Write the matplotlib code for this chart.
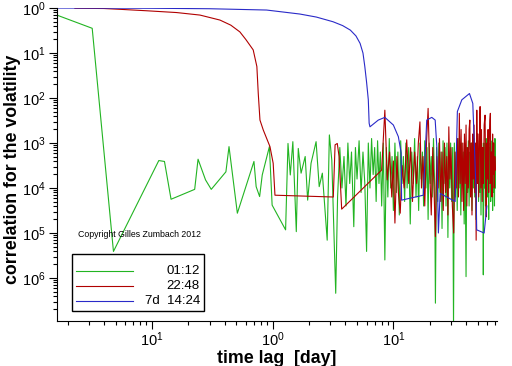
import numpy as np
import matplotlib
matplotlib.use("Agg")
from matplotlib import pyplot as plt
from matplotlib.patches import Rectangle
from matplotlib.ticker import NullFormatter

plt.rcParams['font.family'] = ['Liberation Sans', 'DejaVu Sans']
plt.rcParams['mathtext.default'] = 'regular'

# time lag [day] and log10 of the correlation
green_x = [0.0163, 0.032, 0.048, 0.114, 0.127, 0.144, 0.226, 0.241, 0.278, 0.31, 0.41, 0.435, 0.51,
           0.70, 0.73, 0.78, 0.82, 0.94, 0.99, 1.28, 1.34, 1.40, 1.47, 1.57, 1.63, 1.72, 1.86, 1.95,
           2.08, 2.29, 2.43, 2.58, 2.83, 2.95, 3.09, 3.33,
           3.45, 3.6, 3.75, 3.9, 4.05, 4.2, 4.35, 4.5, 4.7, 4.85, 5.0, 5.2, 5.4, 5.6, 5.8, 6.0, 6.2,
           6.4, 6.6, 6.8, 7.0, 7.2, 7.4, 7.6, 7.8, 8.0, 8.25, 8.5, 8.75, 9.0, 9.25, 9.5, 9.75, 10.0,
           10.3, 10.6, 10.9, 11.2, 11.5, 11.8, 12.1, 12.4, 12.7, 13.0, 13.4, 13.8, 14.2, 14.6, 15.0,
           15.4, 15.8, 16.2, 16.6, 17.0, 17.4, 17.8, 18.2, 18.6, 19.0, 19.4, 19.8, 20.2, 20.6, 21.0,
           21.5, 22.0, 22.3, 22.8, 23.3, 23.8, 24.3, 24.8, 25.3, 25.8, 26.3, 26.8, 27.3, 27.8, 28.3,
           28.8, 29.3, 29.8,
           30.4, 31.0, 31.5, 32.0, 32.6, 33.2, 33.8, 34.4, 35.0, 35.6, 36.2, 36.8, 37.4, 38.0, 38.6,
           39.2, 40.0, 40.6, 41.2, 41.8, 42.4, 43.0, 43.6, 44.2, 44.8, 45.4, 46.0, 46.6, 47.2, 47.8,
           48.4, 49.0, 49.6, 50.2, 50.8, 51.4, 52.0, 52.6, 53.2, 53.8, 54.4, 55.0, 55.6, 56.2, 56.8,
           57.4, 58.0, 58.6, 59.2, 59.8, 60.4, 61.0, 61.6, 62.2, 62.8, 63.4, 64.0, 64.6, 65.2, 65.8,
           66.4, 67.0, 67.6, 68.2, 68.8, 69.4, 70.0]
green_e = [-0.156, -0.45, -5.41, -3.39, -3.41, -4.25, -4.03, -3.36, -3.82, -4.03, -3.64, -3.08, -4.56,
           -3.41, -3.97, -4.19, -3.71, -3.08, -4.38, -4.93, -3.01, -3.71, -2.97, -4.97, -3.12, -3.67,
           -3.30, -4.27, -3.45, -2.97, -3.97, -3.67, -5.16, -2.82, -3.38, -6.34,
           -4.2, -3.1, -4.0, -3.3, -4.4, -3.0, -3.9, -3.2, -4.86, -3.1, -3.8, -2.95, -4.1, -3.2, -3.9,
           -5.41, -3.0, -4.0, -2.9, -3.7, -3.1, -4.3, -2.95, -3.9, -3.2, -4.4, -3.0, -5.6, -3.1, -4.2,
           -2.9, -4.0, -3.3, -4.5,
           -3.0, -4.1, -3.2, -4.6, -2.95, -3.9, -3.3, -4.3, -3.0, -4.0, -3.1, -4.8, -3.2, -3.9, -2.9,
           -4.2, -3.3, -4.5, -3.0, -3.8, -3.2, -4.4, -2.95, -4.0, -3.1, -4.7, -3.0, -3.9, -3.3, -4.2,
           -2.9, -4.0, -6.56, -3.1, -4.3, -3.0, -4.1, -3.2, -4.9, -2.95, -3.9, -3.1, -4.4, -3.0, -5.1,
           -3.2, -4.0, -3.0,
           -4.3, -3.1, -7.1, -3.0, -4.2, -3.2, -4.5, -2.9, -4.0, -3.1, -4.6, -3.0, -3.9, -3.2, -4.8,
           -3.0, -5.97, -3.1, -4.1, -2.95, -4.4, -3.2, -3.8, -3.0, -4.5, -3.1, -4.0, -2.9, -4.2, -3.3,
           -4.7, -3.0, -3.9, -3.2, -4.3, -2.95, -4.1, -3.1, -4.6, -3.0, -3.8, -3.2, -5.93, -3.0, -4.0,
           -3.1, -4.4, -2.9, -3.9, -3.2, -4.2, -3.0, -4.7, -3.1, -3.9, -3.0, -4.3, -3.2, -4.0, -2.95,
           -4.5, -3.1, -4.1, -3.0, -4.4, -2.9, -4.0]

red_x = [0.023, 0.04, 0.056, 0.09, 0.16, 0.25, 0.366, 0.45, 0.535, 0.6, 0.69, 0.74, 0.76, 0.785,
         0.836, 0.95, 1.01, 1.045, 3.18, 3.29, 3.43, 3.55, 3.73, 8.0, 8.5,
         8.9, 9.3, 9.7, 10.0, 10.3, 10.7, 11.0, 11.4, 11.8, 12.3, 12.9, 13.4, 13.9, 14.4, 15.0, 15.6,
         16.1, 16.6, 17.1, 17.6, 18.2, 18.8, 19.4, 20.0, 20.6, 21.2, 21.8, 22.3, 22.9, 23.5, 24.1,
         24.7, 25.3, 25.9, 26.5, 27.1, 27.7, 28.3, 28.8, 29.4, 30.0, 30.8, 31.6, 32.4, 33.2, 34.0,
         34.6, 35.2, 35.8, 36.4, 37.0, 37.6, 38.2, 38.8, 39.4, 40.0, 40.6, 41.2, 41.8, 42.4, 43.0,
         43.6, 44.2, 44.8, 45.4, 46.0, 46.6, 47.2, 47.8, 48.5, 49.1, 49.7, 50.3, 50.9, 51.6, 52.3,
         53.0, 53.7, 54.4, 55.1, 55.8, 56.5, 57.5, 58.2, 58.8, 59.5, 60.2, 60.9, 61.6, 62.3, 63.0,
         63.6, 64.3, 65.0, 65.7, 66.4, 67.1, 67.8, 68.5, 69.2, 70.0]
red_e = [-0.005, -0.01, -0.03, -0.06, -0.1, -0.156, -0.267, -0.38, -0.53, -0.7, -0.93, -1.3, -1.9,
         -2.49, -2.71, -3.08, -3.45, -4.16, -4.2, -3.04, -3.01, -3.3, -4.47, -3.6, -2.27,
         -3.82, -3.2, -4.2, -3.4, -4.78, -3.3, -4.1, -4.56, -3.5, -4.0, -2.93, -3.9, -3.1, -4.3, -3.2,
         -3.9, -3.0, -2.53, -4.0, -3.3, -4.4, -3.0, -2.23, -3.6, -4.6, -3.1, -4.2, -5.08, -3.3, -4.0,
         -2.9, -4.3, -3.2, -4.5, -3.0, -4.1, -3.3, -4.6, -2.64, -3.8, -3.1, -4.4, -5.0, -3.2, -4.0,
         -2.9, -4.2, -2.34, -3.9, -2.7, -4.3, -3.0, -4.5, -2.8, -3.9, -2.6, -4.4, -3.1, -4.0, -2.7,
         -2.49, -4.2, -3.0, -4.6, -2.8, -3.8, -2.6, -4.1, -3.0, -5.16, -2.27, -3.9, -2.8, -4.2, -3.0,
         -2.19, -4.0, -2.7, -4.3, -3.1, -3.9, -2.6, -2.38, -4.0, -4.64, -3.0, -3.8, -2.7, -4.1, -3.0,
         -2.5, -2.34, -3.9, -3.2, -4.2, -2.8, -3.7, -3.0, -4.0, -3.3, -3.6]

blue_x = [0.0163, 0.05, 0.1, 0.3, 0.89, 1.68, 2.3, 3.16, 3.8, 4.4, 4.9, 5.3, 5.6, 5.8, 6.0, 6.2,
          6.3, 6.4, 7.5, 8.5, 10.0, 11.0, 11.6, 11.7, 17.7, 18.9, 20.8, 22.2, 22.9, 23.6, 24.4,
          32.5, 33.9, 36.9, 42.7, 45.5, 48.5, 49.0, 56.5, 59.5]
blue_e = [0.0, -0.002, -0.005, -0.015, -0.044, -0.133, -0.2, -0.304, -0.39, -0.49, -0.62, -0.785,
          -1.0, -1.3, -1.65, -2.04, -2.56, -2.64, -2.49, -2.43, -2.6, -2.86, -3.22, -4.27, -4.16,
          -2.49, -2.43, -2.49, -3.08, -5.0, -4.12, -4.3, -2.3, -2.04, -1.9, -2.12, -4.12, -4.93,
          -5.0, -4.4]

series_labels = ['01:12', '22:48', '7d  14:24']
series_colors = ['#22b422', '#b00000', '#2a2ac8']

yticks = [1e0, 1e-1, 1e-2, 1e-3, 1e-4, 1e-5, 1e-6]
ytick_labels = ['10$^0$', '10$^1$', '10$^2$', '10$^3$', '10$^4$', '10$^5$', '10$^6$']
xticks = [0.1, 1.0, 10.0]
xtick_labels = ['10$^1$', '10$^0$', '10$^1$']

fig = plt.figure(figsize=(5.12, 3.66), dpi=100)
ax = fig.add_axes([0.111, 0.123, 0.860, 0.855])

all_x = [green_x, red_x, blue_x]
all_e = [green_e, red_e, blue_e]
for xs, es, c in zip(all_x, all_e, series_colors):
	ax.plot(xs, 10.0 ** np.array(es), color=c, lw=0.8)

ax.set_xscale('log')
ax.set_yscale('log')
ax.set_xlim(0.0163, 72.4)
ax.set_ylim(1.107e-7, 1.0)

ax.set_yticks(yticks, ytick_labels)
ax.set_xticks(xticks, xtick_labels)
ax.xaxis.set_minor_formatter(NullFormatter())
ax.yaxis.set_minor_formatter(NullFormatter())
ax.tick_params(which='major', direction='out', length=6, width=0.8, labelsize=10.5, pad=2)
ax.tick_params(axis='x', which='major', pad=1)
ax.tick_params(which='minor', direction='out', length=3, width=0.8)
ax.spines['top'].set_visible(False)
ax.spines['right'].set_visible(False)

ax.set_xlabel('time lag  [day]', fontsize=12.8, fontweight='bold')
ax.set_ylabel('correlation for the volatility', fontsize=12.8, fontweight='bold')
ax.xaxis.set_label_coords(0.5, -0.094)
ax.yaxis.set_label_coords(-0.082, 0.486)

ax.text(0.048, 0.275, 'Copyright Gilles Zumbach 2012', transform=ax.transAxes,
		fontsize=6.3, ha='left', va='center')

# legend drawn by hand, labels right aligned like the original
ax.add_patch(Rectangle((0.034, 0.032), 0.300, 0.182, transform=ax.transAxes,
					   fill=True, facecolor='white', edgecolor='black', lw=1, zorder=5))
for i, (lab, c) in enumerate(zip(series_labels, series_colors)):
	yy = 0.160 - i * 0.048
	ax.plot([0.043, 0.173], [yy, yy], transform=ax.transAxes, color=c, lw=0.8, zorder=6)
	ax.text(0.325, yy, lab, transform=ax.transAxes, fontsize=9.5, ha='right', va='center', zorder=6)

fig.savefig('out.png', dpi=100)
